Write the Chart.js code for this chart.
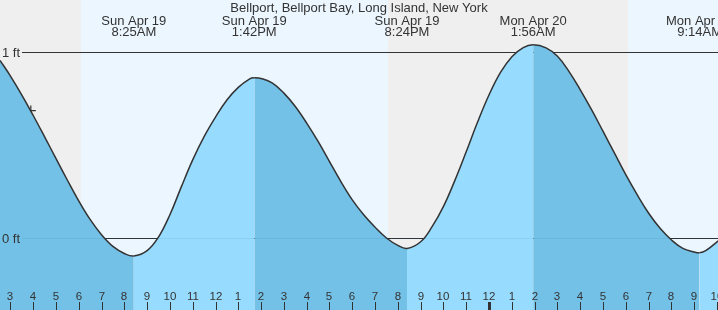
<!DOCTYPE html>
<html>
<head>
<meta charset="utf-8">
<script src="https://cdn.jsdelivr.net/npm/chart.js@4.4.0/dist/chart.umd.min.js"></script>
<style>
  html, body { margin: 0; padding: 0; background: #fff; }
  #wrap { width: 718px; height: 310px; }
</style>
</head>
<body>
<div id="wrap"><canvas id="tideChart" width="718" height="310"></canvas></div>
<script>
// Hours counted from Sun Apr 19, 00:00 (read every half hour, plus the highs/lows)
var tideHours = [2.548, 3, 3.5, 4, 4.5, 5, 5.5, 6, 6.5, 7, 7.5, 8, 8.417, 9, 9.5, 10, 10.5, 11, 11.5, 12, 12.5, 13, 13.5, 13.7, 14, 14.5, 15, 15.5, 16, 16.5, 17, 17.5, 18, 18.5, 19, 19.5, 20, 20.4, 21, 21.5, 22, 22.5, 23, 23.5, 24, 24.5, 25, 25.5, 25.933, 26.5, 27, 27.5, 28, 28.5, 29, 29.5, 30, 30.5, 31, 31.5, 32, 32.5, 33, 33.233, 33.5, 34.05];
var tideFeet  = [0.955, 0.872, 0.770, 0.660, 0.545, 0.428, 0.312, 0.200, 0.100, 0.018, -0.045, -0.083, -0.097, -0.068, 0.005, 0.125, 0.275, 0.420, 0.545, 0.650, 0.742, 0.810, 0.856, 0.862, 0.858, 0.833, 0.779, 0.707, 0.618, 0.519, 0.411, 0.303, 0.205, 0.125, 0.058, 0.000, -0.040, -0.056, -0.020, 0.061, 0.170, 0.310, 0.465, 0.625, 0.770, 0.890, 0.975, 1.024, 1.039, 1.022, 0.977, 0.896, 0.797, 0.689, 0.573, 0.456, 0.339, 0.232, 0.133, 0.052, -0.011, -0.056, -0.075, -0.079, -0.068, -0.015];

// high / low tide labels
var extremeHours = [8.417, 13.7, 20.4, 25.933, 33.233];
var extremeDays  = ['Sun Apr 19', 'Sun Apr 19', 'Sun Apr 19', 'Mon Apr 20', 'Mon Apr 20'];
var extremeTimes = ['8:25AM', '1:42PM', '8:24PM', '1:56AM', '9:14AM'];

// hour ticks along the bottom
var hourTicks  = [3, 4, 5, 6, 7, 8, 9, 10, 11, 12, 13, 14, 15, 16, 17, 18, 19, 20, 21, 22, 23, 24, 25, 26, 27, 28, 29, 30, 31, 32, 33, 34];
var hourLabels = ['3', '4', '5', '6', '7', '8', '9', '10', '11', '12', '1', '2', '3', '4', '5', '6', '7', '8', '9', '10', '11', '12', '1', '2', '3', '4', '5', '6', '7', '8', '9', '10'];

var levelTicks  = [0, 1];
var levelLabels = ['0 ft', '1 ft'];

// sunrise, sunset, sunrise
var sunHours = [6.1, 19.57, 30.09];

var nowHour = 3.9;
var nowFeet = 0.685;

var titleText = 'Bellport, Bellport Bay, Long Island, New York';

var tidePoints = tideHours.map(function(h, i) { return { x: h, y: tideFeet[i] }; });

var risingColor = '#97dcfe';
var fallingColor = '#73c1e6';
var inkColor = '#333333';
var fontName = '"Liberation Sans", Arial, sans-serif';

var tideDecor = {
  id: 'tideDecor',
  beforeDatasetsDraw: function(chart) {
    var c = chart.ctx, xs = chart.scales.x, ys = chart.scales.y;
    var w = chart.width, h = chart.height;
    c.save();
    // night / day bands
    var edges = [xs.min].concat(sunHours, [xs.max]);
    for (var i = 0; i < edges.length - 1; i++) {
      var a = Math.round(xs.getPixelForValue(edges[i]));
      var b = Math.round(xs.getPixelForValue(edges[i + 1]));
      c.fillStyle = i % 2 === 0 ? '#efefef' : '#ebf6ff';
      c.fillRect(a, 0, b - a, h);
    }
    // 0 ft and 1 ft lines
    c.strokeStyle = inkColor;
    c.lineWidth = 1;
    levelTicks.forEach(function(v) {
      var py = Math.round(ys.getPixelForValue(v)) + 0.5;
      c.beginPath();
      c.moveTo(22, py);
      c.lineTo(w, py);
      c.stroke();
    });
    c.restore();
  },
  afterDatasetsDraw: function(chart) {
    var c = chart.ctx, xs = chart.scales.x, ys = chart.scales.y;
    var w = chart.width, h = chart.height;
    c.save();
    // faint 0 ft line over the water
    var zy = Math.round(ys.getPixelForValue(0)) + 0.5;
    c.strokeStyle = 'rgba(0, 60, 110, 0.08)';
    c.beginPath();
    c.moveTo(22, zy);
    c.lineTo(w, zy);
    c.stroke();

    c.fillStyle = inkColor;
    c.textBaseline = 'middle';
    c.textAlign = 'left';
    c.font = '13px ' + fontName;
    levelTicks.forEach(function(v, i) {
      c.fillText(levelLabels[i], 2, Math.round(ys.getPixelForValue(v)) + 1);
    });

    // title and tide labels
    c.textAlign = 'center';
    c.textBaseline = 'alphabetic';
    c.font = '13px ' + fontName;
    c.fillText(titleText, w / 2, 12);
    extremeHours.forEach(function(t, i) {
      var px = xs.getPixelForValue(t);
      c.fillText(extremeDays[i], px, 25);
      c.fillText(extremeTimes[i], px, 36);
    });

    // hour labels and tick marks
    c.font = '11.5px ' + fontName;
    hourTicks.forEach(function(t, i) {
      var px = Math.round(xs.getPixelForValue(t));
      c.fillText(hourLabels[i], px, 300);
      c.fillRect(t === 24 ? px - 1 : px, 302, t === 24 ? 3 : 1, h - 302);
    });
    c.restore();
  }
};

new Chart(document.getElementById('tideChart').getContext('2d'), {
  type: 'line',
  data: {
    datasets: [{
      label: 'Tide',
      data: tidePoints,
      borderColor: inkColor,
      borderWidth: 1.5,
      backgroundColor: fallingColor,
      pointRadius: 0,
      tension: 0.4,
      fill: 'start',
      segment: {
        backgroundColor: function(ctx) {
          return ctx.p1.parsed.y > ctx.p0.parsed.y ? risingColor : fallingColor;
        }
      }
    }, {
      label: 'Now',
      data: [{ x: nowHour, y: nowFeet }],
      showLine: false,
      pointStyle: 'cross',
      pointRadius: 5,
      borderColor: inkColor,
      borderWidth: 1.2,
      fill: false
    }]
  },
  options: {
    responsive: false,
    animation: false,
    layout: { padding: 0, autoPadding: false },
    plugins: { legend: { display: false }, tooltip: { enabled: false } },
    scales: {
      x: { type: 'linear', min: 2.548, max: 34.04, display: false },
      y: { min: -0.387, max: 1.2796, display: false }
    }
  },
  plugins: [tideDecor]
});
</script>
</body>
</html>
